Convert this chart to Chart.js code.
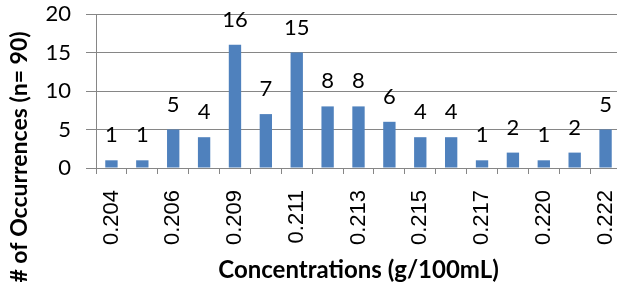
<!DOCTYPE html>
<html>
<head>
<meta charset="utf-8">
<script src="https://cdn.jsdelivr.net/npm/chart.js@4"></script>
<style>
  html, body { margin: 0; padding: 0; background: #fff; overflow: hidden; }
  #wrap { position: relative; width: 621px; height: 290px; }
</style>
</head>
<body>
<div id="wrap"><canvas id="chartBars"></canvas></div>
<script>
// Concentration bins (every other label is shown on the axis)
const concentrations = ['0.204', '0.205', '0.206', '0.207', '0.209', '0.210', '0.211', '0.212', '0.213',
                        '0.214', '0.215', '0.216', '0.217', '0.218', '0.220', '0.221', '0.222'];
const occurrences = [1, 1, 5, 4, 16, 7, 15, 8, 8, 6, 4, 4, 1, 2, 1, 2, 5];
const yTicks = [0, 5, 10, 15, 20];

const axisGray = '#868686';
const labelFont = 'Lato, Carlito, "Open Sans", sans-serif';

// Simple value labels above bars (no datalabels plugin available)
const barValueLabels = {
    id: 'barValueLabels',
    afterDatasetsDraw(chart) {
        const { ctx } = chart;
        const meta = chart.getDatasetMeta(0);
        ctx.save();
        ctx.font = '22px ' + labelFont;
        ctx.fillStyle = '#000';
        ctx.textAlign = 'center';
        ctx.textBaseline = 'alphabetic';
        meta.data.forEach((bar, i) => {
            ctx.fillText(String(occurrences[i]), bar.x, bar.y - 18);
        });
        ctx.restore();
    }
};

// Y title drawn by hand so it can sit off-centre like the original
const yTitle = {
    id: 'yTitle',
    afterDraw(chart) {
        const { ctx } = chart;
        ctx.save();
        ctx.translate(20, 157);
        ctx.rotate(-Math.PI / 2);
        ctx.font = 'bold 23px ' + labelFont;
        ctx.fillStyle = '#000';
        ctx.textAlign = 'center';
        ctx.textBaseline = 'middle';
        ctx.fillText('# of Occurrences (n= 90)', 0, 0);
        ctx.restore();
    }
};

new Chart(document.getElementById('chartBars'), {
    type: 'bar',
    data: {
        labels: concentrations,
        datasets: [{
            data: occurrences,
            backgroundColor: '#4F81BD',
            borderWidth: 0,
            barPercentage: 0.4,
            categoryPercentage: 1.0
        }]
    },
    options: {
        responsive: true,
        maintainAspectRatio: false,
        animation: false,
        events: [],
        layout: { padding: { top: 14, left: 0, right: 0, bottom: 0 } },
        plugins: {
            legend: { display: false },
            tooltip: { enabled: false }
        },
        scales: {
            x: {
                offset: true,
                grid: {
                    offset: true,
                    drawOnChartArea: false,
                    drawTicks: true,
                    tickLength: 6,
                    color: axisGray
                },
                border: { color: axisGray, width: 1 },
                ticks: {
                    autoSkip: false,
                    maxRotation: 90,
                    minRotation: 90,
                    padding: 16,
                    color: '#000',
                    font: { family: 'Liberation Sans, Arial, sans-serif', size: 22 },
                    callback: function (value, index) {
                        return index % 2 === 0 ? concentrations[index] : '';
                    }
                },
                title: {
                    display: true,
                    text: 'Concentrations (g/100mL)',
                    color: '#000',
                    font: { family: labelFont, size: 24, weight: 'bold' },
                    padding: { top: 0, bottom: 5 }
                },
                afterFit: function (scale) {
                    scale.height = 122;
                    scale.paddingLeft = 0;
                    scale.paddingRight = 0;
                }
            },
            y: {
                min: 0,
                max: 20,
                afterBuildTicks: function (scale) {
                    scale.ticks = yTicks.map(v => ({ value: v }));
                },
                grid: {
                    color: axisGray,
                    tickLength: 10,
                    drawTicks: true
                },
                border: { color: axisGray, width: 1 },
                ticks: {
                    padding: 15,
                    color: '#000',
                    font: { family: labelFont, size: 22 }
                },
                afterFit: function (scale) {
                    scale.width = 96;
                    scale.paddingTop = 0;
                    scale.paddingBottom = 0;
                }
            }
        }
    },
    plugins: [barValueLabels, yTitle]
});
</script>
</body>
</html>
